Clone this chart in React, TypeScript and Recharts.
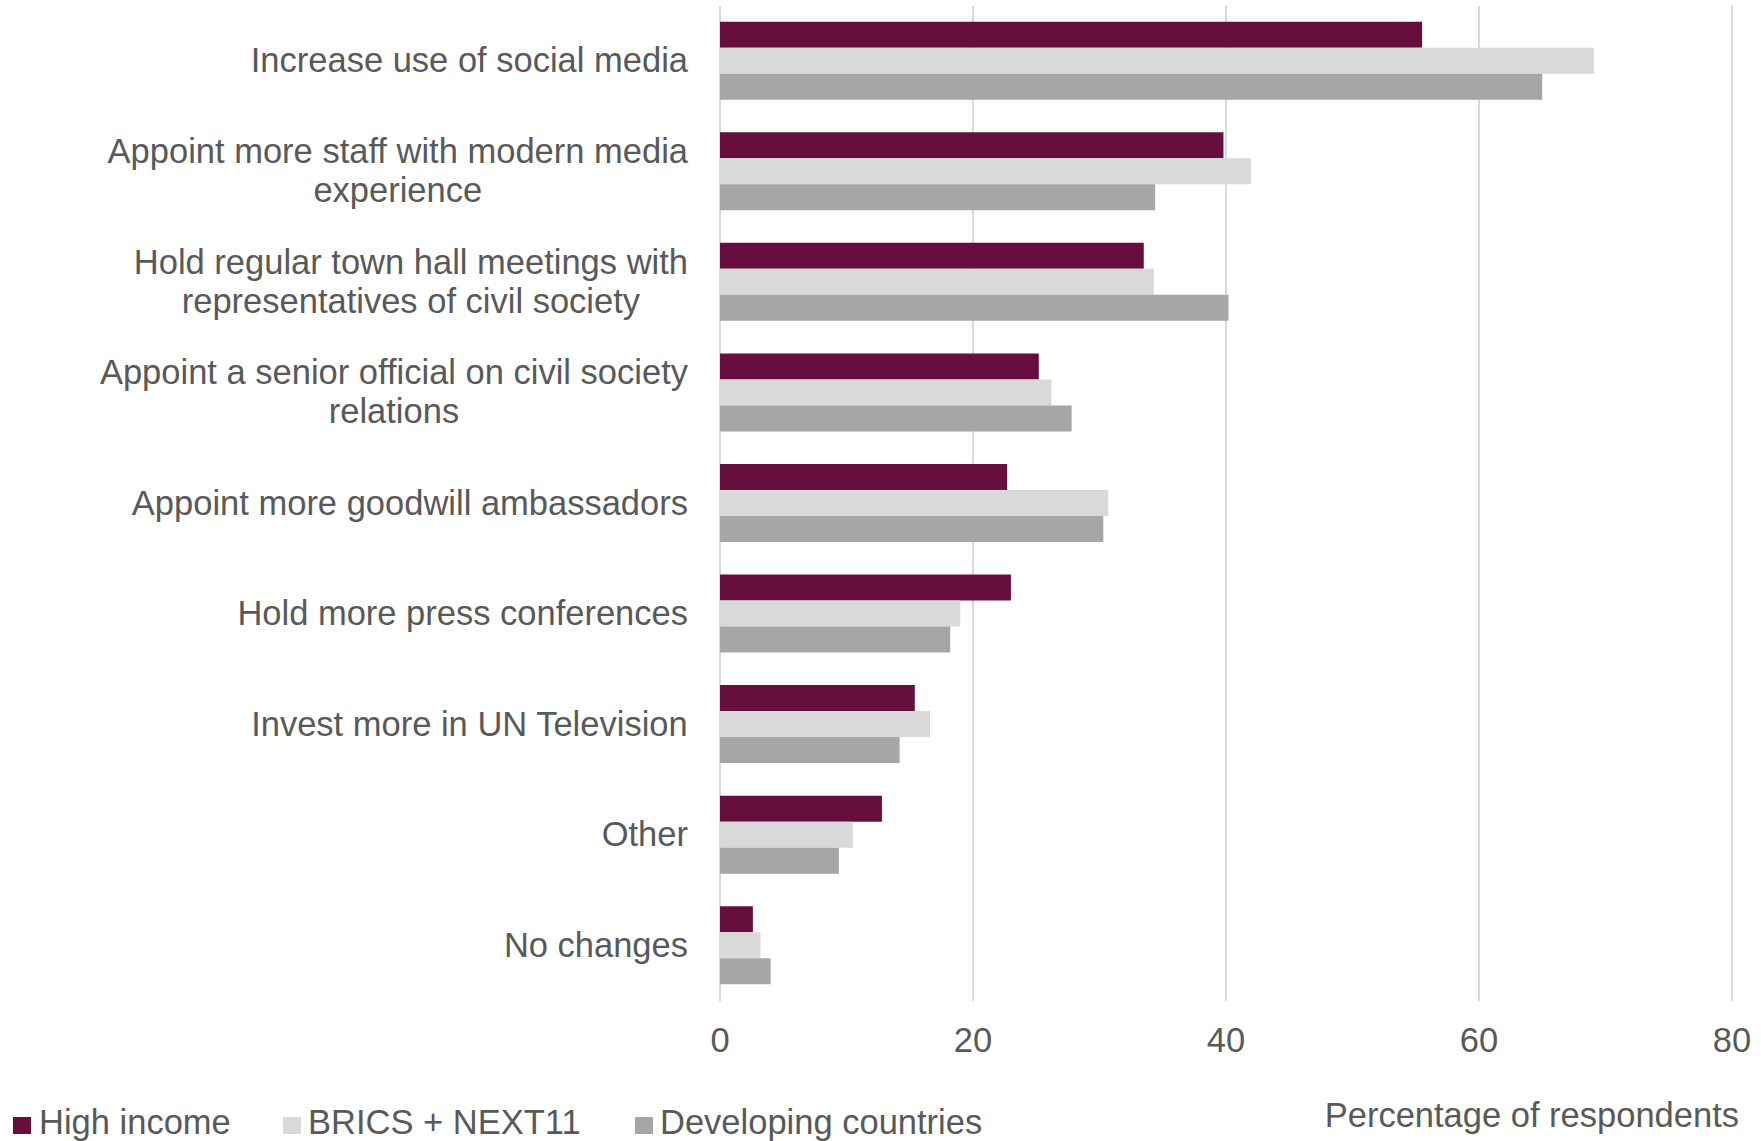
import React from 'react';
import { BarChart, Bar, XAxis, YAxis, CartesianGrid, Legend, Label } from 'recharts';

const categories = [
  'Increase use of social media',
  'Appoint more staff with modern media\nexperience',
  'Hold regular town hall meetings with\nrepresentatives of civil society',
  'Appoint a senior official on civil society\nrelations',
  'Appoint more goodwill ambassadors',
  'Hold more press conferences',
  'Invest more in UN Television',
  'Other',
  'No changes',
];
const highIncome = [55.5, 39.8, 33.5, 25.2, 22.7, 23.0, 15.4, 12.8, 2.6];
const bricsNext11 = [69.1, 42.0, 34.3, 26.2, 30.7, 19.0, 16.6, 10.5, 3.2];
const developing = [65.0, 34.4, 40.2, 27.8, 30.3, 18.2, 14.2, 9.4, 4.0];
const xTicks = [0, 20, 40, 60, 80];
const seriesKeys = ['hi', 'brics', 'dev'];
const seriesNames = ['High income', 'BRICS + NEXT11', 'Developing countries'];
const seriesColors = ['#660F3E', '#D9D9D9', '#A6A6A6'];
const xTitle = 'Percentage of respondents';

const FS = 34.5;
const FONT = '"Liberation Sans", Arial, sans-serif';
const TEXT = '#595959';

let ctx: CanvasRenderingContext2D | null = null;
function measure(s: string): number {
  try {
    if (!ctx) ctx = document.createElement('canvas').getContext('2d');
    if (ctx) {
      ctx.font = `${FS}px "Liberation Sans"`;
      return ctx.measureText(s).width;
    }
  } catch (e) {}
  return s.length * FS * 0.5;
}

const YTick = (props: any) => {
  const { x, y, payload } = props;
  const lines: string[] = String(payload.value).split('\n');
  const maxW = Math.max(...lines.map(measure));
  const cx = x - maxW / 2;
  const lh = 39;
  return (
    <g>
      {lines.map((ln, i) => (
        <text
          key={i}
          x={cx}
          y={y + (i - (lines.length - 1) / 2) * lh + 11}
          textAnchor="middle"
          fontFamily={FONT}
          fontSize={FS}
          fill={TEXT}
        >
          {ln}
        </text>
      ))}
    </g>
  );
};

const XTick = (props: any) => {
  const { x, y, payload } = props;
  return (
    <text x={x} y={y + 51} textAnchor="middle" fontFamily={FONT} fontSize={FS} fill={TEXT}>
      {payload.value}
    </text>
  );
};

const XTitle = (props: any) => {
  const vb = props.viewBox || { x: 720, y: 1001, width: 1012, height: 100 };
  return (
    <text x={vb.x + vb.width + 7} y={vb.y + 126} textAnchor="end" fontFamily={FONT} fontSize={FS} fill={TEXT}>
      {xTitle}
    </text>
  );
};

const legendSquareX = [13, 283, 635];
const legendTextX = [39, 308, 660];

const LegendContent = () => (
  <svg width={1761} height={40} style={{ display: 'block', overflow: 'visible' }}>
    {seriesNames.map((n, i) => (
      <g key={n}>
        <rect x={legendSquareX[i]} y={16} width={18} height={17} fill={seriesColors[i]} />
        <text x={legendTextX[i]} y={33} fontFamily={FONT} fontSize={FS} fill={TEXT}>
          {n}
        </text>
      </g>
    ))}
  </svg>
);

export default function App() {
  const data = categories.map((c, i) => ({
    name: c,
    hi: highIncome[i],
    brics: bricsNext11[i],
    dev: developing[i],
  }));
  return (
    <div style={{ position: 'absolute', left: 0, top: 0, width: 1761, height: 1141, background: '#fff' }}>
      <BarChart
        width={1761}
        height={1141}
        data={data}
        layout="vertical"
        margin={{ top: 6, right: 29, bottom: 0, left: 0 }}
        barCategoryGap="14.25%"
        barGap={0}
      >
        <CartesianGrid horizontal={false} stroke="#D9D9D9" strokeWidth={2} />
        <XAxis
          type="number"
          domain={[0, 80]}
          ticks={xTicks}
          interval={0}
          height={100}
          axisLine={false}
          tickLine={false}
          tickSize={0}
          tickMargin={0}
          tick={<XTick />}
        >
          <Label content={<XTitle />} />
        </XAxis>
        <YAxis
          type="category"
          dataKey="name"
          width={720}
          axisLine={false}
          tickLine={false}
          tickSize={0}
          tickMargin={32}
          interval={0}
          tick={<YTick />}
        />
        <Legend
          verticalAlign="bottom"
          content={<LegendContent />}
          wrapperStyle={{ left: 0, bottom: 0, width: 1761, height: 40 }}
        />
        {seriesKeys.map((k, i) => (
          <Bar key={k} dataKey={k} name={seriesNames[i]} fill={seriesColors[i]} isAnimationActive={false} />
        ))}
      </BarChart>
    </div>
  );
}
